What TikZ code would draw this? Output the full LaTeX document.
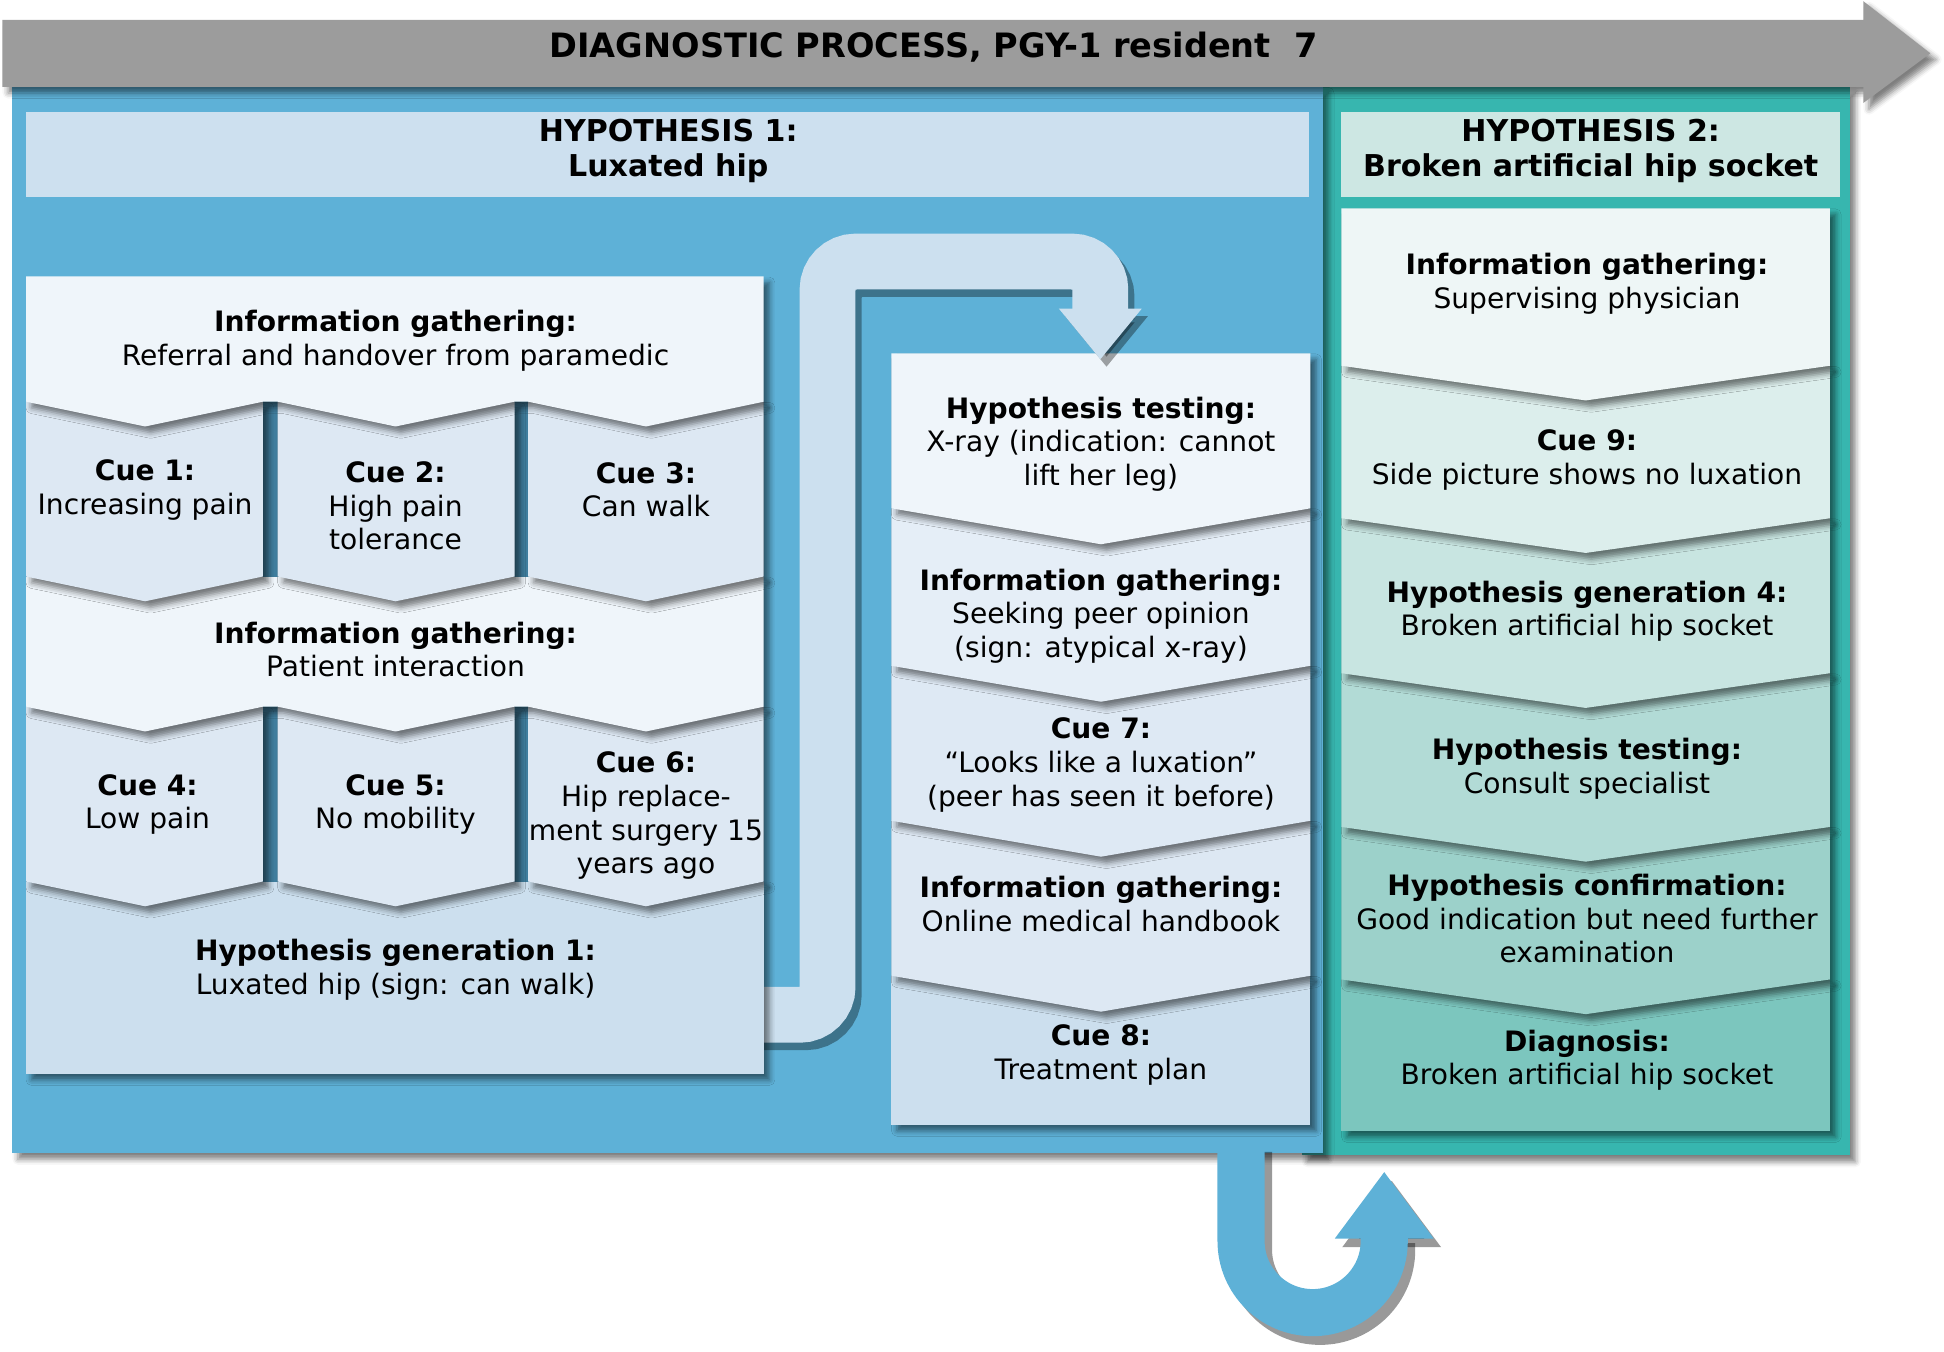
\documentclass[tikz,border=0pt]{standalone}
\usepackage{fontspec}
\setmainfont{DejaVu Sans}
\usepackage{tikz}
\usetikzlibrary{arrows.meta,shadows.blur}

\definecolor{grau}{HTML}{9C9C9C}
\definecolor{panelblau}{HTML}{5EB1D7}
\definecolor{tuerkis}{HTML}{37B6AF}
\definecolor{spalt}{HTML}{3F7D9D}
\definecolor{bandblau}{HTML}{CCE0EF}
\definecolor{kopf1}{HTML}{CDE0EF}
\definecolor{kopf2}{HTML}{CDE7E3}
\definecolor{blau1}{HTML}{EFF5FA}
\definecolor{blau2}{HTML}{DDE8F3}
\definecolor{blau3}{HTML}{CCDFEE}
\definecolor{mitte2}{HTML}{E5EEF7}
\definecolor{mitte3}{HTML}{DEE9F4}
\definecolor{tk1}{HTML}{EEF6F6}
\definecolor{tk2}{HTML}{DCEEEC}
\definecolor{tk3}{HTML}{C8E5E1}
\definecolor{tk4}{HTML}{B2DBD6}
\definecolor{tk5}{HTML}{9CD1CA}
\definecolor{tk6}{HTML}{7CC6BE}

\begin{document}
\begin{tikzpicture}[x=0.2mm,y=-0.2mm,
  txt/.style={align=center,inner sep=0pt,text=black,font=\fontsize{12.9pt}{15.4pt}\selectfont},
  kopf/.style={txt,font=\fontsize{13.8pt}{16pt}\selectfont\bfseries},
  schatten/.style={blur shadow={shadow xshift=0.9mm,shadow yshift=-1mm,shadow blur radius=0.9mm,shadow opacity=50}},
  band/.style={line width=9mm,rounded corners=4.5mm,draw=bandblau,-{Triangle[width=12.8mm,length=8.2mm]}},
  uturn/.style={line width=7.6mm,draw=panelblau,-{Triangle[width=15.2mm,length=10.8mm]}}]
\useasboundingbox (0,0) rectangle (1568,1090);

%Koordinaten fuer die Pfeile
\coordinate (bandA) at (600,818.5);
\coordinate (bandB) at (667.5,818.5);
\coordinate (bandC) at (667.5,211);
\coordinate (bandD) at (887.5,211);
\coordinate (bandE) at (887.5,290);
\coordinate (uA) at (1001,922);
\coordinate (uB) at (1001,1001);
\coordinate (uC) at (1116.5,945);

%Hintergrund
\fill[tuerkis,schatten] (1050,70) rectangle (1492,932);
\fill[panelblau,schatten] (10,70) rectangle (1067,930);
\draw[uturn,draw=black,opacity=.4,transform canvas={xshift=1.2mm,yshift=-1.4mm}] (uA) -- (uB) arc[start angle=180,end angle=0,radius=57.75] -- (uC);
\draw[uturn] (uA) -- (uB) arc[start angle=180,end angle=0,radius=57.75] -- (uC);
\fill[grau,schatten] (2,16) -- (1503,16) -- (1503,1) -- (1557,43) -- (1503,83) -- (1503,70) -- (2,70) -- cycle;
\fill[kopf1] (21,90) rectangle (1056,159);
\fill[kopf2] (1082,90) rectangle (1484,159);

%Hypothese 2
\fill[tk6,schatten] (1082,790) rectangle (1476,912);
\foreach \o/\u/\f in {667/790/tk5,543/667/tk4,418/543/tk3,295/418/tk2,168/295/tk1}
  \fill[\f,schatten] (1082,\o) -- (1476,\o) -- (1476,\u) -- (1279,{\u+28}) -- (1082,\u) -- cycle;

%mittlere Spalte
\fill[blau3,schatten] (719,787) rectangle (1057,907);
\foreach \o/\u/\f in {662/787/blau2,537/662/mitte3,410/537/mitte2,285/410/blau1}
  \fill[\f,schatten] (719,\o) -- (1057,\o) -- (1057,\u) -- (888,{\u+29}) -- (719,\u) -- cycle;

\draw[band,draw=black,opacity=.35,transform canvas={xshift=1mm,yshift=-1.2mm}] (bandA) -- (bandB) -- (bandC) -- (bandD) -- (bandE);
\draw[band] (bandA) -- (bandB) -- (bandC) -- (bandD) -- (bandE);

%linker Block
\fill[blau3,schatten] (21,711) rectangle (616,866);
\fill[spalt] (21,570) rectangle (616,711);
\foreach \a/\b/\m in {21/212/117,224/415/319,426/616/521}
  \fill[blau2,schatten] (\a,570) -- (\b,570) -- (\b,711) -- (\m,731) -- (\a,711) -- cycle;
\fill[blau1,schatten] (21,465) -- (616,465) -- (616,570) -- (521,590) -- (426,570) -- (415,570) -- (319,590) -- (224,570) -- (212,570) -- (117,590) -- (21,570) -- cycle;
\fill[spalt] (21,324) rectangle (616,465);
\foreach \a/\b/\m in {21/212/117,224/415/319,426/616/521}
  \fill[blau2,schatten] (\a,324) -- (\b,324) -- (\b,465) -- (\m,485) -- (\a,465) -- cycle;
\fill[blau1,schatten] (21,223) -- (616,223) -- (616,324) -- (521,344) -- (426,324) -- (415,324) -- (319,344) -- (224,324) -- (212,324) -- (117,344) -- (21,324) -- cycle;

%Texte
\node[kopf,font=\fontsize{15.4pt}{18pt}\selectfont\bfseries] (titel) at (753,38) {DIAGNOSTIC PROCESS, PGY-1 resident~~7};
\node[kopf] (h1) at (539,122) {HYPOTHESIS 1:\\Luxated hip};
\node[kopf] (h2) at (1283,122) {HYPOTHESIS 2:\\Broken artificial hip socket};
\node[txt] (ig1) at (319,275) {\textbf{Information gathering:}\\Referral and handover from paramedic};
\node[txt] (cue1) at (117,395) {\textbf{Cue 1:}\\Increasing pain};
\node[txt] (cue2) at (319,408) {\textbf{Cue 2:}\\High pain\\tolerance};
\node[txt] (cue3) at (521,395) {\textbf{Cue 3:}\\Can walk};
\node[txt] (ig2) at (319,524) {\textbf{Information gathering:}\\Patient interaction};
\node[txt] (cue4) at (119,649) {\textbf{Cue 4:}\\Low pain};
\node[txt] (cue5) at (319,649) {\textbf{Cue 5:}\\No mobility};
\node[txt] (cue6) at (521,658) {\textbf{Cue 6:}\\Hip replace-\\ment surgery 15\\years ago};
\node[txt] (hg1) at (319,782) {\textbf{Hypothesis generation 1:}\\Luxated hip (sign: can walk)};
\node[txt] (ht1) at (888,358) {\textbf{Hypothesis testing:}\\X-ray (indication: cannot\\lift her leg)};
\node[txt] (ig3) at (888,497) {\textbf{Information gathering:}\\Seeking peer opinion\\(sign: atypical x-ray)};
\node[txt] (cue7) at (888,617) {\textbf{Cue 7:}\\“Looks like a luxation”\\(peer has seen it before)};
\node[txt] (ig4) at (888,729) {\textbf{Information gathering:}\\Online medical handbook};
\node[txt] (cue8) at (888,851) {\textbf{Cue 8:}\\Treatment plan};
\node[txt] (ig5) at (1280,229) {\textbf{Information gathering:}\\Supervising physician};
\node[txt] (cue9) at (1280,371) {\textbf{Cue 9:}\\Side picture shows no luxation};
\node[txt] (hg4) at (1280,493) {\textbf{Hypothesis generation 4:}\\Broken artificial hip socket};
\node[txt] (ht2) at (1280,620) {\textbf{Hypothesis testing:}\\Consult specialist};
\node[txt] (hk) at (1280,741) {\textbf{Hypothesis confirmation:}\\Good indication but need further\\examination};
\node[txt] (diag) at (1280,855) {\textbf{Diagnosis:}\\Broken artificial hip socket};
\end{tikzpicture}
\end{document}
